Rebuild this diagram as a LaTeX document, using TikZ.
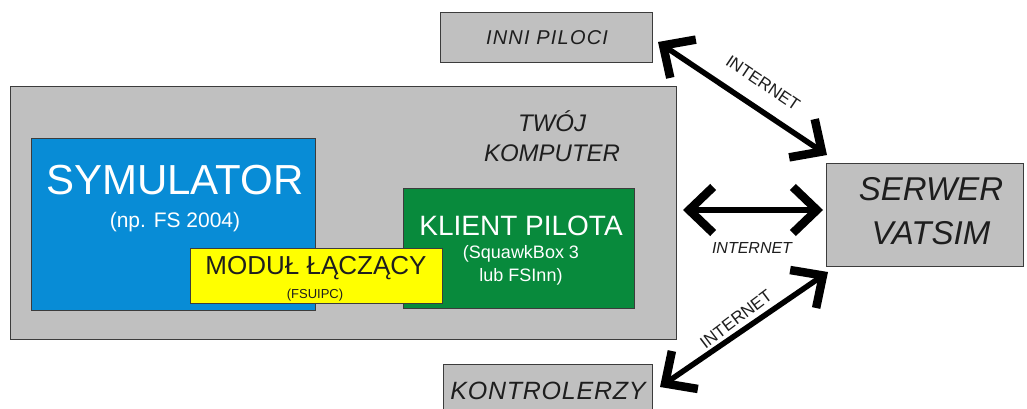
\documentclass[tikz,border=0pt]{standalone}
\usepackage{fontspec}
\setmainfont{Liberation Sans}
\usetikzlibrary{arrows.meta}
\definecolor{boxgray}{RGB}{192,192,192}
\definecolor{simblue}{RGB}{8,140,214}
\definecolor{kgreen}{RGB}{8,138,60}
\definecolor{myyellow}{RGB}{255,255,0}
\definecolor{edge}{RGB}{60,60,60}
\definecolor{txtgray}{RGB}{30,30,30}
\tikzset{
  box/.style={draw=edge, line width=1pt, inner sep=0pt, outer sep=0pt},
  ital/.style={font=\itshape, text=txtgray, inner sep=0pt},
  netarrow/.style={line width=5.5pt, draw=black,
     {Straight Barb[length=24pt,width=46pt,line width=8.5pt]}-{Straight Barb[length=24pt,width=46pt,line width=8.5pt]}},
  netlabel/.style={font=\fontsize{17}{17}\selectfont, text=txtgray, inner sep=0pt}
}
\begin{document}
\begin{tikzpicture}[x=1pt,y=-1pt]
\useasboundingbox (0,0) rectangle (1027,409);
\fill[white] (0,0) rectangle (1027,409);
% boxes
\draw[box, fill=boxgray] (10,87) rectangle (676,339) coordinate (compBR);
\node[box, fill=boxgray, minimum width=212pt, minimum height=50pt, anchor=north west] (inni) at (440,13) {};
\node[box, fill=boxgray, minimum width=197pt, minimum height=103pt, anchor=north west] (serwer) at (826,163) {};
\node[box, fill=boxgray, minimum width=209pt, minimum height=60pt, anchor=north west] (kontr) at (443,364) {};
\node[box, fill=simblue, minimum width=284pt, minimum height=172pt, anchor=north west] (sym) at (31,138) {};
\node[box, fill=kgreen, minimum width=231pt, minimum height=120pt, anchor=north west] (klient) at (403,188) {};
\node[box, fill=myyellow, minimum width=252pt, minimum height=55pt, anchor=north west] (modul) at (190,248) {};
% texts
\node[ital, font=\itshape\fontsize{20}{20}\selectfont\addfontfeatures{LetterSpace=6}] (tinni) at (547,38) {INNI PILOCI};
\node[ital, font=\itshape\fontsize{24}{30}\selectfont, align=center] (tkomp) at (552,136) {TWÓJ\\KOMPUTER};
\node[ital, font=\itshape\fontsize{33}{44}\selectfont, align=center] (tserw) at (931,211) {SERWER\\VATSIM};
\node[ital, font=\itshape\fontsize{25}{25}\selectfont\addfontfeatures{LetterSpace=3}] (tkontr) at (548,391) {KONTROLERZY};
\node[text=white, inner sep=0pt, font=\fontsize{42}{42}\selectfont] (tsym) at (175,180) {SYMULATOR};
\node[text=white, inner sep=0pt, font=\fontsize{21}{21}\selectfont] (tsym2) at (175,222) {(np. FS 2004)};
\node[text=white, inner sep=0pt, font=\fontsize{28}{28}\selectfont] (tkl) at (521,226) {KLIENT PILOTA};
\node[text=white, inner sep=0pt, font=\fontsize{18}{23}\selectfont, align=center] (tkl2) at (521,265) {(SquawkBox 3\\lub FSInn)};
\node[text=txtgray, inner sep=0pt, font=\fontsize{26}{26}\selectfont] (tmod) at (316,268) {MODUŁ ŁĄCZĄCY};
\node[text=txtgray, inner sep=0pt, font=\fontsize{13}{13}\selectfont] (tmod2) at (315,295) {(FSUIPC)};
% arrow end points
\coordinate (a1s) at (658,42);
\coordinate (a1e) at (827,155);
\coordinate (a2s) at (683,210);
\coordinate (a2e) at (823,210);
\coordinate (a3s) at (660,387);
\coordinate (a3e) at (828,272);
\draw[netarrow] (a1s) -- (a1e);
\draw[netarrow] (a2s) -- (a2e);
\draw[netarrow] (a3s) -- (a3e);
% labels
\node[netlabel, rotate=-34] (l1) at (763,83) {INTERNET};
\node[netlabel, font=\itshape\fontsize{16}{16}\selectfont] (l2) at (752,248) {INTERNET};
\node[netlabel, rotate=37] (l3) at (736,319) {INTERNET};
\end{tikzpicture}
\end{document}
